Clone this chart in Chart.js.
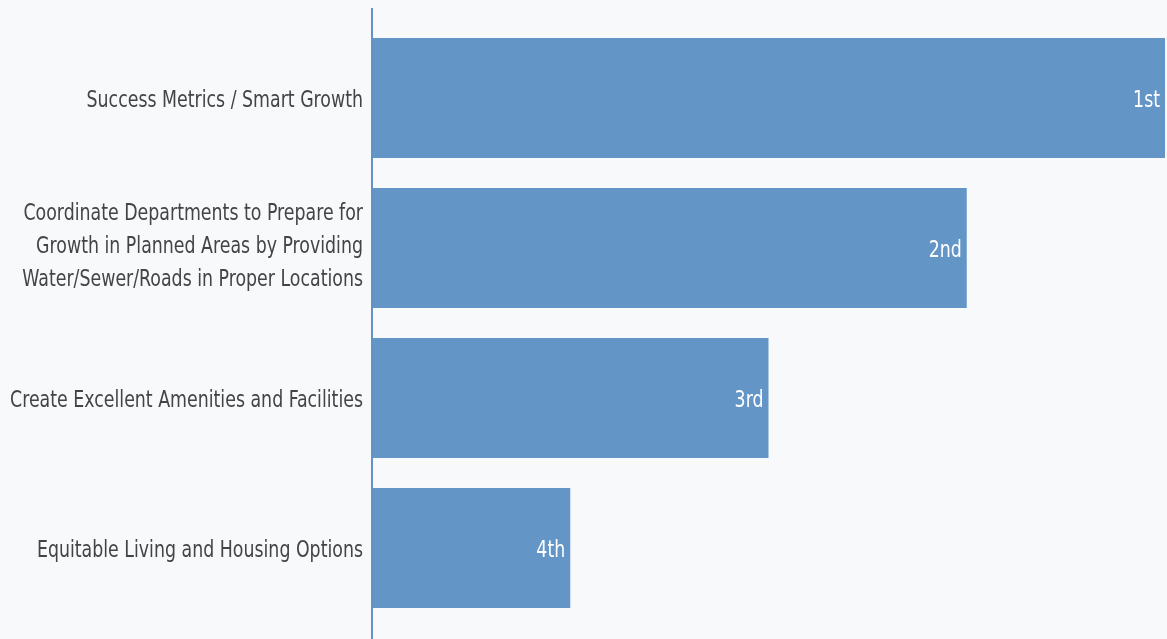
<!DOCTYPE html>
<html>
<head>
<meta charset="utf-8">
<script src="https://cdn.jsdelivr.net/npm/chart.js@4/dist/chart.umd.min.js"></script>
<style>
  html, body { margin: 0; padding: 0; background: #f8f9fb; }
  #wrap { width: 1167px; height: 639px; }
</style>
</head>
<body>
<div id="wrap"><canvas id="bar-chart-canvas"></canvas></div>
<script>
const categories = [
    "Success Metrics / Smart Growth",
    ["Coordinate Departments to Prepare for", "Growth in Planned Areas by Providing", "Water/Sewer/Roads in Proper Locations"],
    "Create Excellent Amenities and Facilities",
    "Equitable Living and Housing Options",
];
const scores = [4, 3, 2, 1];
const rankLabels = ["1st", "2nd", "3rd", "4th"];

const FONT = "'DejaVu Sans Condensed', 'DejaVu Sans', sans-serif";
const SQUEEZE = 0.84; // the original face is narrower than anything installed

// draws a line of text squeezed horizontally, anchored at its right end
function drawNarrow(ctx, text, right, y) {
    ctx.save();
    ctx.translate(right, y);
    ctx.scale(SQUEEZE, 1);
    ctx.fillText(text, 0, 0);
    ctx.restore();
}

// category labels, placed from the y scale
const categoryPlugin = {
    id: "categoryLabels",
    afterDraw(chart) {
        const ctx = chart.ctx;
        const yScale = chart.scales.y;
        const right = chart.scales.x.left - 9;
        const lineH = 33;
        ctx.save();
        ctx.fillStyle = "#444444";
        ctx.font = "23px " + FONT;
        ctx.textAlign = "right";
        ctx.textBaseline = "middle";
        categories.forEach((label, i) => {
            const lines = Array.isArray(label) ? label : [label];
            const mid = yScale.getPixelForTick(i) + (lines.length > 1 ? -1 : 3);
            const start = mid - ((lines.length - 1) * lineH) / 2;
            lines.forEach((line, j) => drawNarrow(ctx, line, right, start + j * lineH));
        });
        ctx.restore();
    },
};

// white rank text at the end of each bar
const rankPlugin = {
    id: "rankLabels",
    afterDatasetsDraw(chart) {
        const ctx = chart.ctx;
        const meta = chart.getDatasetMeta(0);
        ctx.save();
        ctx.fillStyle = "#ffffff";
        ctx.font = "23px " + FONT;
        ctx.textAlign = "right";
        ctx.textBaseline = "middle";
        meta.data.forEach((bar, i) => {
            drawNarrow(ctx, rankLabels[i], bar.x - 5, bar.y + 3);
        });
        ctx.restore();
    },
};

// vertical axis line, runs a bit above the first bar and down to the bottom
const axisLinePlugin = {
    id: "axisLine",
    afterDraw(chart) {
        const ctx = chart.ctx;
        const x = chart.scales.x.left;
        ctx.save();
        ctx.strokeStyle = "#6393c6";
        ctx.lineWidth = 2;
        ctx.beginPath();
        ctx.moveTo(x, chart.chartArea.top - 15);
        ctx.lineTo(x, chart.height);
        ctx.stroke();
        ctx.restore();
    },
};

const ctx = document.getElementById("bar-chart-canvas").getContext("2d");
const barChart = new Chart(ctx, {
    type: "bar",
    data: {
        labels: categories,
        datasets: [
            {
                label: "Rank",
                data: scores,
                backgroundColor: "#6395c6",
                borderWidth: 0,
                barPercentage: 0.8,
                categoryPercentage: 1,
            },
        ],
    },
    options: {
        indexAxis: "y",
        responsive: true,
        maintainAspectRatio: false,
        animation: false,
        layout: { padding: { top: 23, bottom: 16, left: 0, right: 2 } },
        plugins: {
            legend: { display: false },
            tooltip: { enabled: false },
        },
        scales: {
            x: {
                min: 0,
                max: 4,
                display: false,
            },
            y: {
                grid: { display: false, drawTicks: false },
                border: { display: false },
                ticks: { display: false },
                afterFit(scale) {
                    scale.width = 372;
                    scale.paddingTop = 0;
                    scale.paddingBottom = 0;
                },
            },
        },
    },
    plugins: [rankPlugin, categoryPlugin, axisLinePlugin],
});
</script>
</body>
</html>
